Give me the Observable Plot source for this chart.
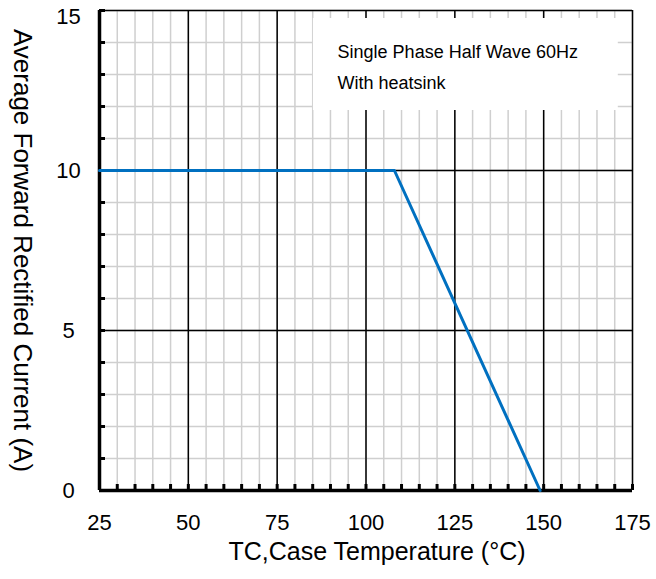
<!DOCTYPE html>
<html><head><meta charset="utf-8">
<script src="https://cdn.jsdelivr.net/npm/d3@7"></script>
<script src="https://cdn.jsdelivr.net/npm/@observablehq/plot@0.6"></script>
<style>body{margin:0;background:#fff}</style>
</head><body><div id="chart"></div>
<script>
// Data
const caseTemp = [25, 108, 149];
const avgCurrent = [10, 10, 0];
const xTickLabels = [25, 50, 75, 100, 125, 150, 175];
const yTickLabels = [0, 5, 10, 15];
const xMinorTicks = d3.range(25, 176, 5);
const yMinorTicks = d3.range(0, 16, 1);
const xMajorGrid = [50, 75, 100, 125, 150];
const yMajorGrid = [5, 10];
const noteLines = ["Single Phase Half Wave 60Hz", "With heatsink"];
const xTitle = "TC,Case Temperature (°C)";
const yTitle = "Average Forward Rectified Current (A)";

const rows = caseTemp.map((t, i) => ({t, a: avgCurrent[i]}));
const sansFont = "'Liberation Sans', Arial, sans-serif";
const yTop = yTickLabels[yTickLabels.length - 1];

const chart = Plot.plot({
  width: 656, height: 579,
  marginLeft: 99, marginRight: 24, marginTop: 10, marginBottom: 89,
  style: {background: "#fff", color: "#000", fontFamily: sansFont},
  x: {domain: [25, 175], axis: null},
  y: {domain: [0, 15], axis: null},
  marks: [
    Plot.ruleX(xMinorTicks, {stroke: "#cfcfcf", strokeWidth: 1.5}),
    Plot.ruleY(yMinorTicks, {stroke: "#cfcfcf", strokeWidth: 1.5}),
    Plot.ruleX(xMajorGrid, {stroke: "#000", strokeWidth: 1.5}),
    Plot.ruleY(yMajorGrid, {stroke: "#000", strokeWidth: 1.5}),
    Plot.rect([0], {x1: 85.2, x2: 171, y1: 11.875, y2: 14.75, fill: "#fff"}),
    Plot.ruleY([15], {stroke: "#000", strokeWidth: 1.5}),
    Plot.ruleX([175], {stroke: "#000", strokeWidth: 1.5}),
    Plot.ruleX(xMinorTicks, {stroke: "#000", strokeWidth: 3, insetTop: 474}),
    Plot.ruleY(yMinorTicks, {stroke: "#000", strokeWidth: 3, insetRight: 527}),
    Plot.ruleY([0], {stroke: "#000", strokeWidth: 3.5}),
    Plot.ruleX([25], {stroke: "#000", strokeWidth: 3.5}),
    Plot.line(rows, {x: "t", y: "a", stroke: "#0070c0", strokeWidth: 3}),
    Plot.text(noteLines, {x: 92, y: (d, i) => [13.71, 12.74][i], text: d => d, textAnchor: "start", lineAnchor: "middle", fontSize: 18, fontFamily: sansFont, fill: "#000"}),
    Plot.axisX(xTickLabels, {tickSize: 0, tickPadding: 24, fontSize: 22, fontFamily: sansFont, label: null}),
    Plot.axisY(yTickLabels.filter(v => v !== yTop), {tickSize: 0, tickPadding: 31, textAnchor: "middle", fontSize: 22, fontFamily: sansFont, label: null}),
    Plot.axisY([yTop], {tickSize: 0, tickPadding: 31, textAnchor: "middle", dy: 6, fontSize: 22, fontFamily: sansFont, label: null}),
    Plot.text([xTitle], {frameAnchor: "bottom", textAnchor: "middle", lineAnchor: "middle", dx: 11, dy: 61, fontSize: 25, fontFamily: sansFont, fill: "#000"}),
    Plot.text([yTitle], {frameAnchor: "left", textAnchor: "middle", lineAnchor: "middle", dx: -77, rotate: 90, fontSize: 26, fontFamily: sansFont, fill: "#000"})
  ]
});
document.getElementById("chart").appendChild(chart);
</script>
</body></html>
